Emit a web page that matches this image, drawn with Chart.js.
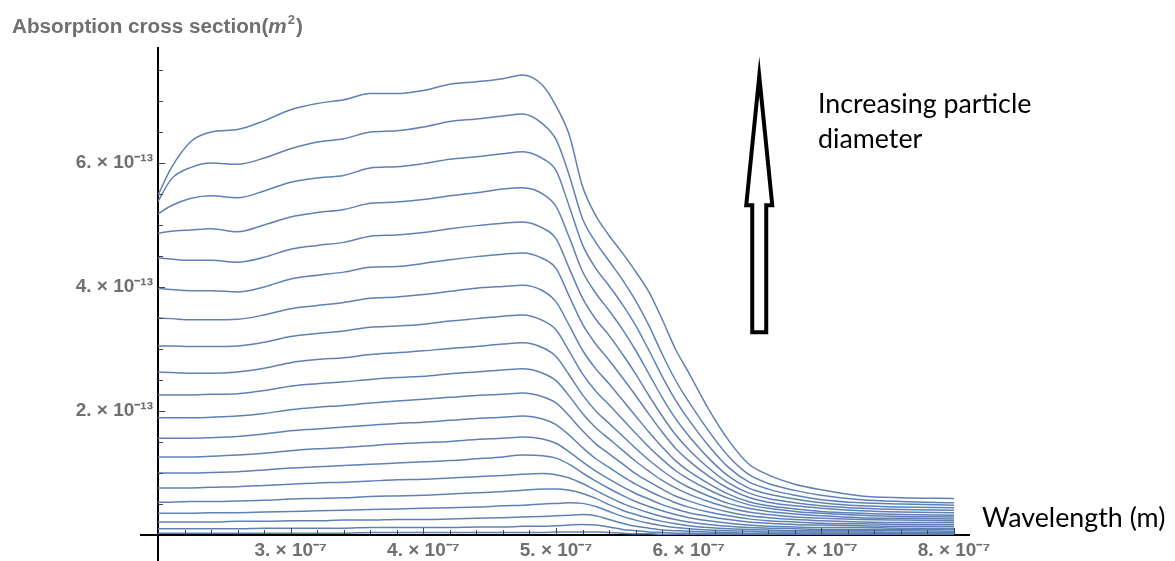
<!DOCTYPE html>
<html><head><meta charset="utf-8">
<script src="https://cdn.jsdelivr.net/npm/chart.js@4.4.1/dist/chart.umd.min.js"></script>
<style>html,body{margin:0;padding:0;background:#fff;}#wrap{width:1175px;height:561px;position:relative;}</style>
</head><body><div id="wrap"><canvas id="c" width="1175" height="561"></canvas></div>
<script>
// wavelength samples (nm)
const wavelengthsNm = [200,210,225,240,260,280,300,320,340,360,380,400,420,440,460,475,490,500,510,520,530,540,550,560,570,580,590,600,615,630,645,660,680,700,730,760,800];
// absorption cross sections, in units of 1e-13 m^2 (largest particle first)
const c01 = [5.48,5.92,6.35,6.50,6.54,6.68,6.86,6.96,7.02,7.12,7.12,7.17,7.27,7.31,7.36,7.42,7.25,6.92,6.45,5.62,5.15,4.83,4.55,4.25,3.92,3.48,3.00,2.62,2.03,1.53,1.15,0.97,0.82,0.73,0.63,0.60,0.59];
const c02 = [5.38,5.74,5.93,6.00,5.98,6.08,6.23,6.34,6.39,6.50,6.52,6.58,6.67,6.71,6.76,6.79,6.63,6.38,5.80,5.10,4.72,4.42,4.12,3.78,3.38,2.92,2.50,2.15,1.68,1.27,0.98,0.83,0.72,0.64,0.57,0.54,0.52];
const c03 = [5.18,5.31,5.43,5.47,5.44,5.55,5.69,5.76,5.80,5.92,5.94,5.99,6.06,6.10,6.15,6.18,6.07,5.88,5.30,4.68,4.30,4.02,3.72,3.38,2.98,2.56,2.18,1.86,1.44,1.09,0.86,0.74,0.64,0.57,0.52,0.50,0.48];
const c04 = [4.87,4.90,4.92,4.94,4.89,5.00,5.13,5.20,5.25,5.35,5.37,5.41,5.47,5.52,5.58,5.60,5.50,5.30,4.80,4.25,3.90,3.62,3.32,2.98,2.60,2.22,1.88,1.60,1.24,0.95,0.76,0.66,0.58,0.52,0.47,0.45,0.44];
const c05 = [4.47,4.45,4.43,4.43,4.40,4.48,4.61,4.67,4.72,4.82,4.84,4.88,4.94,4.99,5.03,5.05,4.95,4.78,4.30,3.82,3.48,3.22,2.92,2.60,2.25,1.92,1.62,1.38,1.08,0.84,0.68,0.59,0.52,0.47,0.43,0.41,0.40];
const c06 = [3.98,3.96,3.94,3.94,3.92,4.00,4.13,4.19,4.24,4.32,4.33,4.38,4.44,4.49,4.53,4.55,4.46,4.30,3.85,3.40,3.08,2.82,2.54,2.25,1.95,1.66,1.40,1.20,0.95,0.75,0.61,0.53,0.47,0.43,0.39,0.37,0.36];
const c07 = [3.50,3.49,3.47,3.47,3.48,3.55,3.65,3.70,3.75,3.82,3.84,3.88,3.93,3.98,4.01,4.03,3.94,3.76,3.38,2.98,2.68,2.44,2.18,1.92,1.66,1.42,1.20,1.03,0.83,0.66,0.54,0.47,0.42,0.38,0.35,0.33,0.32];
const c08 = [3.05,3.05,3.04,3.04,3.05,3.11,3.20,3.25,3.29,3.35,3.37,3.40,3.45,3.49,3.53,3.55,3.46,3.31,2.96,2.60,2.32,2.10,1.87,1.64,1.42,1.22,1.04,0.90,0.73,0.59,0.49,0.43,0.38,0.35,0.32,0.30,0.29];
const c09 = [2.63,2.62,2.61,2.61,2.63,2.69,2.78,2.83,2.86,2.91,2.94,2.97,3.01,3.04,3.08,3.10,3.02,2.88,2.58,2.26,2.00,1.80,1.60,1.40,1.21,1.04,0.89,0.77,0.63,0.51,0.43,0.38,0.34,0.31,0.28,0.27,0.26];
const c10 = [2.26,2.26,2.26,2.27,2.28,2.33,2.40,2.44,2.47,2.51,2.54,2.56,2.60,2.63,2.66,2.68,2.61,2.49,2.24,1.96,1.73,1.55,1.37,1.19,1.03,0.88,0.76,0.66,0.54,0.44,0.37,0.33,0.29,0.27,0.25,0.24,0.23];
const c11 = [1.89,1.89,1.89,1.90,1.92,1.96,2.02,2.06,2.09,2.13,2.16,2.19,2.22,2.25,2.27,2.29,2.23,2.13,1.92,1.68,1.47,1.31,1.15,0.99,0.86,0.74,0.63,0.55,0.45,0.37,0.31,0.28,0.25,0.23,0.21,0.20,0.20];
const c12 = [1.56,1.56,1.56,1.57,1.59,1.63,1.68,1.71,1.74,1.77,1.80,1.82,1.85,1.88,1.90,1.92,1.87,1.78,1.61,1.41,1.23,1.09,0.95,0.82,0.71,0.61,0.52,0.45,0.37,0.31,0.26,0.23,0.21,0.19,0.18,0.17,0.17];
const c13 = [1.26,1.26,1.26,1.27,1.29,1.32,1.36,1.39,1.41,1.44,1.47,1.49,1.51,1.54,1.56,1.58,1.55,1.48,1.34,1.18,1.03,0.90,0.78,0.67,0.58,0.49,0.42,0.36,0.30,0.25,0.21,0.19,0.17,0.16,0.15,0.14,0.14];
const c14 = [1.00,1.00,1.00,1.01,1.02,1.05,1.08,1.10,1.12,1.14,1.16,1.18,1.20,1.23,1.26,1.29,1.28,1.24,1.14,1.00,0.87,0.75,0.64,0.54,0.46,0.39,0.33,0.28,0.23,0.19,0.16,0.14,0.13,0.12,0.12,0.11,0.11];
const c15 = [0.76,0.76,0.76,0.77,0.78,0.80,0.82,0.84,0.85,0.87,0.89,0.90,0.92,0.94,0.96,0.98,0.99,0.97,0.92,0.83,0.72,0.61,0.51,0.43,0.36,0.30,0.25,0.21,0.17,0.14,0.12,0.11,0.10,0.09,0.09,0.09,0.09];
const c16 = [0.53,0.53,0.54,0.54,0.55,0.56,0.58,0.59,0.60,0.62,0.63,0.64,0.66,0.68,0.70,0.72,0.74,0.74,0.72,0.67,0.59,0.49,0.40,0.33,0.27,0.22,0.18,0.15,0.12,0.10,0.09,0.08,0.07,0.07,0.07,0.07,0.06];
const c17 = [0.35,0.35,0.35,0.36,0.36,0.37,0.38,0.39,0.40,0.41,0.42,0.43,0.44,0.45,0.47,0.48,0.50,0.51,0.52,0.51,0.46,0.38,0.30,0.24,0.19,0.15,0.12,0.10,0.08,0.07,0.06,0.05,0.05,0.05,0.05,0.04,0.04];
const c18 = [0.21,0.21,0.21,0.21,0.22,0.22,0.23,0.23,0.24,0.24,0.25,0.25,0.26,0.27,0.28,0.29,0.30,0.31,0.32,0.33,0.31,0.25,0.19,0.14,0.11,0.08,0.07,0.06,0.05,0.04,0.03,0.03,0.03,0.03,0.03,0.03,0.03];
const c19 = [0.10,0.10,0.10,0.10,0.10,0.11,0.11,0.11,0.11,0.12,0.12,0.12,0.12,0.13,0.13,0.14,0.14,0.15,0.16,0.17,0.16,0.13,0.09,0.07,0.05,0.04,0.03,0.03,0.02,0.02,0.02,0.02,0.02,0.02,0.02,0.02,0.02];
const c20 = [0.03,0.03,0.03,0.03,0.03,0.03,0.03,0.03,0.03,0.04,0.04,0.04,0.04,0.04,0.04,0.04,0.04,0.05,0.05,0.05,0.05,0.04,0.03,0.02,0.02,0.01,0.01,0.01,0.01,0.01,0.01,0.01,0.01,0.01,0.01,0.01,0.01];
// labelled ticks: x in units of 1e-7 m, y in units of 1e-13 m^2
const xTickLabelValues = [3,4,5,6,7,8];
const yTickLabelValues = [2,4,6];

const curves = [c01,c02,c03,c04,c05,c06,c07,c08,c09,c10,c11,c12,c13,c14,c15,c16,c17,c18,c19,c20];
const datasets = curves.map((vals,i)=>({
  label:'curve '+(i+1),
  data: vals.map((v,j)=>({x: wavelengthsNm[j]*1e-9, y: v*1e-13})),
  borderColor:'#5E81B5', borderWidth:1.5, pointRadius:0, fill:false,
  cubicInterpolationMode:'monotone'
}));

const tickFont = {family:'"Liberation Sans", Arial, sans-serif', weight:'bold', size:19};
const noteFont = '26.8px Lato, "Open Sans", sans-serif';

const decorations = {
  id:'decorations',
  afterDraw(chart){
    const {ctx, chartArea:a, scales:{x,y}} = chart;
    ctx.save();
    const x0 = x.getPixelForValue(2e-7), y0 = y.getPixelForValue(0);
    ctx.strokeStyle='#000'; ctx.lineWidth=2;
    ctx.beginPath();
    ctx.moveTo(x0, a.bottom); ctx.lineTo(x0, chart.height);
    ctx.moveTo(x0-18, y0); ctx.lineTo(x0+1, y0);
    ctx.stroke();
    ctx.lineWidth=1; ctx.strokeStyle='#444';
    ctx.beginPath();
    for(let k=1;k<=15;k++){ const py=Math.round(y.getPixelForValue(k*0.5e-13))+0.5; const L=(k%4===0)?6:4; ctx.moveTo(x0+1,py); ctx.lineTo(x0+1+L,py); }
    for(let k=1;k<=30;k++){ const px=Math.round(x.getPixelForValue(2e-7+k*0.2e-7))+0.5; const L=(k%5===0)?6:4; ctx.moveTo(px,y0-1); ctx.lineTo(px,y0-1-L); }
    ctx.stroke();
    ctx.fillStyle='#6f6f6f'; ctx.textAlign='left'; ctx.textBaseline='alphabetic';
    let tx=12; const ty=33;
    ctx.font='bold 20.7px "Liberation Sans", Arial, sans-serif';
    const t1='Absorption cross section('; ctx.fillText(t1,tx,ty); tx+=ctx.measureText(t1).width;
    ctx.font='italic bold 20.7px "Liberation Sans", Arial, sans-serif';
    ctx.fillText('m',tx,ty); tx+=ctx.measureText('m').width+1;
    ctx.font='bold 13px "Liberation Sans", Arial, sans-serif';
    ctx.fillText('2',tx,ty-9); tx+=ctx.measureText('2').width+1;
    ctx.font='bold 20.7px "Liberation Sans", Arial, sans-serif';
    ctx.fillText(')',tx,ty);
    ctx.fillStyle='#000'; ctx.font=noteFont;
    ctx.fillText('Increasing particle', 818, 113);
    ctx.fillText('diameter', 818, 148);
    ctx.fillText('Wavelength (m)', 982, 527);
    const ax = x.getPixelForValue(6.532e-7);
    const tipY = y.getPixelForValue(7.40e-13), baseY = y.getPixelForValue(5.32e-13), botY = y.getPixelForValue(3.27e-13);
    ctx.strokeStyle='#000'; ctx.lineWidth=4; ctx.lineJoin='miter'; ctx.miterLimit=20;
    ctx.beginPath();
    ctx.moveTo(ax, tipY);
    ctx.lineTo(ax+13, baseY); ctx.lineTo(ax+7, baseY); ctx.lineTo(ax+7, botY);
    ctx.lineTo(ax-7, botY); ctx.lineTo(ax-7, baseY); ctx.lineTo(ax-13, baseY);
    ctx.closePath(); ctx.stroke();
    ctx.restore();
  }
};

new Chart(document.getElementById('c'), {
  type:'line',
  data:{datasets},
  options:{
    responsive:false, animation:false, devicePixelRatio:1,
    parsing:false,
    layout:{padding:{left:0,right:206,top:48,bottom:0}},
    plugins:{legend:{display:false}, tooltip:{enabled:false}, title:{display:false}},
    scales:{
      x:{type:'linear', position:'bottom', min:2e-7, max:8.113e-7,
        afterFit:s=>{s.height=26;},
        grid:{display:true, drawOnChartArea:false, drawTicks:false},
        border:{display:true, color:'#000', width:2},
        ticks:{stepSize:1e-7, includeBounds:false, autoSkip:false, maxRotation:0, padding:4, color:'#6f6f6f', font:tickFont,
          callback:(value)=>{const v=value/1e-7, r=Math.round(v); return (Math.abs(v-r)<1e-6 && xTickLabelValues.includes(r)) ? r+'. \u00d7 10\u207b\u2077' : '';}}
      },
      y:{type:'linear', position:'left', min:0, max:7.855e-13,
        afterFit:s=>{s.width=158;},
        grid:{display:true, drawOnChartArea:false, drawTicks:false},
        border:{display:true, color:'#000', width:2},
        ticks:{stepSize:2e-13, includeBounds:false, autoSkip:false, padding:5, color:'#6f6f6f', font:tickFont,
          callback:(value)=>{const v=value/1e-13, r=Math.round(v); return (Math.abs(v-r)<1e-6 && yTickLabelValues.includes(r)) ? r+'. \u00d7 10\u207b\u00b9\u00b3' : '';}}
      }
    }
  },
  plugins:[decorations]
});
</script></body></html>
